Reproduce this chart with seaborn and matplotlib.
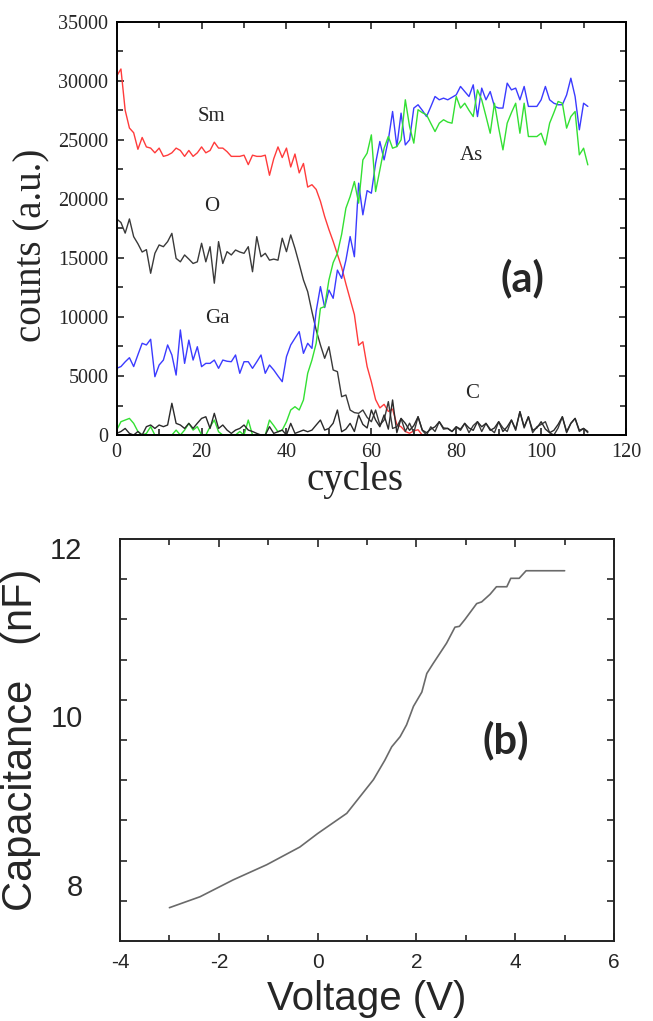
import numpy as np
import pandas as pd
import matplotlib
matplotlib.use("Agg")
import matplotlib.pyplot as plt
import seaborn as sns

# (a) depth profile: counts vs sputter cycles
cycles = list(range(112))

sm_counts = [30400, 31000, 27500, 26000, 25600, 24200, 25200, 24400, 24300, 23900,
             24300, 23600, 23700, 23900, 24300, 24100, 23600, 24100, 23600, 23900,
             24400, 23900, 24100, 24800, 24300, 24300, 24000, 23600, 23600, 23600,
             23700, 22900, 23700, 23600, 23600, 23700, 22000, 23400, 24400, 23500,
             24300, 22700, 23800, 22200, 23000, 21000, 21200, 20800, 19800, 18500,
             17400, 16400, 15300, 14200, 12800, 11500, 10200, 7600, 7900, 5800,
             4500, 3000, 2300, 2600, 2000, 2200, 900, 700, 300, 150,
             350, 450] + [0] * 40

ga_counts = [5650, 5800, 6200, 6550, 5800, 6800, 7770, 7630, 8110, 4940,
             5930, 6350, 7630, 6780, 5080, 8900, 6070, 8040, 6350, 7480,
             5790, 6070, 6070, 6350, 5650, 6350, 6250, 6210, 6780, 5230,
             6210, 6210, 5650, 6200, 6780, 5230, 5930, 5510, 5000, 4520,
             6640, 7630, 8200, 8760, 6920, 7770, 7340, 10500, 12570, 10800,
             12280, 11580, 13970, 13270, 14800, 16810, 15100, 21330, 18650, 20700,
             20480, 23020, 24860, 23300, 25000, 27400, 24430, 27260, 24570, 25000,
             27690, 27970, 27500, 26970, 27800, 28670, 28390, 28530, 28390, 28600,
             28810, 29520, 29090, 28670, 29660, 26970, 29380, 28390, 29090, 27830,
             27690, 27690, 29800, 29230, 29380, 28390, 29520, 27830, 27830, 27830,
             28390, 29520, 28390, 28100, 27970, 27970, 28800, 30220, 28670, 25850,
             28100, 27830]

as_counts = [420, 1130, 1270, 1410, 990, 300, 0, 140, 710, 0,
             0, 0, 0, 0, 420, 0, 420, 990, 420, 710,
             0, 0, 700, 1270, 280, 0, 0, 0, 0, 300,
             0, 1270, 0, 0, 0, 0, 1270, 800, 280, 420,
             1130, 2120, 2400, 2120, 2970, 5230, 6350, 7770, 10740, 10880,
             13130, 14600, 15400, 17000, 19210, 20200, 21470, 19640, 23300, 23870,
             25420, 20620, 22450, 24290, 25280, 24290, 24430, 25000, 28390, 26130,
             24720, 27550, 27300, 27120, 26400, 25700, 26410, 26700, 26500, 26410,
             28670, 27690, 28100, 27500, 26970, 29230, 28390, 27000, 25560, 28100,
             26000, 24150, 26410, 27300, 28100, 25560, 28100, 25280, 25280, 25280,
             25560, 24570, 26410, 27300, 28250, 28100, 25990, 26970, 27400, 23730,
             24290, 22880]

o_counts = [18300, 18000, 17100, 18300, 16800, 16200, 15500, 15700, 13700, 15390,
            16100, 15950, 16380, 17080, 14960, 14670, 15250, 14900, 14530, 14670,
            16240, 14670, 15950, 12860, 16380, 14530, 15530, 15250, 15670, 15500,
            15390, 15950, 13830, 16800, 15100, 15390, 14810, 14900, 14810, 16670,
            15530, 16950, 15810, 14500, 13130, 12140, 10450, 8890, 7630, 6500,
            7480, 5510, 5370, 3250, 3390, 2120, 1900, 1840, 2120, 1500,
            1130, 2120, 850, 1270, 2830, 560, 700, 1400, 300, 1000,
            200, 1550, 400, 0, 700, 300, 1130, 500, 560, 300,
            700, 400, 990, 200, 800, 1130, 300, 990, 500, 200,
            1130, 600, 300, 1270, 400, 1980, 600, 1550, 200, 700,
            900, 1130, 200, 0, 600, 1550, 300, 990, 1410, 300,
            560, 200]

c_counts = [140, 300, 560, 140, 0, 300, 0, 710, 850, 560,
            850, 710, 850, 2690, 990, 850, 560, 990, 560, 1000,
            1410, 1550, 560, 1840, 560, 850, 420, 140, 420, 560,
            850, 420, 300, 140, 0, 0, 710, 140, 280, 420,
            0, 990, 140, 280, 420, 280, 420, 850, 1270, 420,
            560, 1000, 2120, 280, 500, 990, 300, 1700, 900, 600,
            2120, 1270, 700, 1700, 500, 2970, 200, 1410, 990, 400,
            800, 1550, 420, 200, 500, 700, 1130, 600, 560, 300,
            700, 500, 990, 600, 400, 1130, 700, 990, 400, 600,
            1130, 300, 700, 1270, 500, 1980, 700, 1550, 400, 600,
            1130, 500, 200, 400, 900, 1550, 200, 990, 1410, 400,
            560, 300]

elements = ["Sm", "O", "Ga", "As", "C"]
element_colors = {"Sm": "#ff3b3b", "O": "#3a3a3a", "Ga": "#3b3bff",
                  "As": "#33e033", "C": "#2a2a2a"}
label_pos = {"Sm": (22.4, 27000), "O": (22.4, 19350), "Ga": (23.8, 9900),
             "As": (83.5, 23700), "C": (83.8, 3550)}

# (b) C-V curve
voltage = [-3.0, -2.38, -1.71, -1.03, -0.36, 0.0, 0.59, 1.13, 1.36, 1.50,
           1.67, 1.80, 1.94, 2.11, 2.21, 2.34, 2.61, 2.78, 2.87, 2.98,
           3.22, 3.32, 3.49, 3.62, 3.83, 3.91, 4.08, 4.22, 5.0]
capacitance = [7.73, 7.86, 8.06, 8.24, 8.45, 8.61, 8.85, 9.25, 9.48, 9.64,
               9.76, 9.90, 10.12, 10.29, 10.51, 10.63, 10.87, 11.06, 11.07, 11.15,
               11.34, 11.36, 11.45, 11.54, 11.54, 11.64, 11.64, 11.73, 11.73]

sns.set_style("ticks")
plt.rcParams["axes.unicode_minus"] = False
serif = ["Liberation Serif", "DejaVu Serif"]
sans = ["Liberation Sans", "DejaVu Sans"]

fig = plt.figure(figsize=(6.53, 10.21), dpi=100)
ax1 = fig.add_axes([0.1787, 0.5739, 0.78, 0.4048])
ax2 = fig.add_axes([0.1838, 0.0784, 0.7565, 0.3937])

# ---- panel (a)
profile = pd.DataFrame({
    "cycle": cycles * 5,
    "counts": sm_counts + o_counts + ga_counts + as_counts + c_counts,
    "element": np.repeat(elements, len(cycles)),
})
sns.lineplot(data=profile, x="cycle", y="counts", hue="element",
             palette=element_colors, estimator=None, sort=False,
             linewidth=1.0, legend=False, ax=ax1)
ax1.set_xlim(0, 120)
ax1.set_ylim(0, 35000)
ax1.set_xticks(range(0, 121, 20))
ax1.set_xticks(range(0, 121, 10), minor=True)
ax1.set_yticks(range(0, 35001, 5000))
ax1.set_yticks(range(0, 35001, 2500), minor=True)
ax1.tick_params(which="both", direction="in", top=True, right=True,
                width=1.2, labelsize=14.5, pad=6)
ax1.tick_params(which="major", length=5)
ax1.tick_params(which="minor", length=4)
for lab in ax1.get_xticklabels() + ax1.get_yticklabels():
    lab.set_family(serif)
ax1.set_xlabel("cycles", family=serif, fontsize=28, va="center")
ax1.set_ylabel("counts (a.u.)", family=serif, fontsize=28, va="center")
ax1.xaxis.set_label_coords(0.468, -0.11)
ax1.yaxis.set_label_coords(-0.166, 0.46)
for name, (x, y) in label_pos.items():
    ax1.text(x, y, name, family=serif, fontsize=15, ha="center", va="center")
ax1.text(95.5, 13280, "(a)", family=["Lato", "DejaVu Sans"], weight="bold",
         fontsize=30, ha="center", va="center")
for sp in ax1.spines.values():
    sp.set_linewidth(1.4)
    sp.set_color("black")

# ---- panel (b)
sns.lineplot(x=voltage, y=capacitance, color="#6a6a6a", linewidth=1.2,
             estimator=None, sort=False, ax=ax2)
ylo, yhi = 7.335, 12.107
ax2.set_xlim(-4, 6)
ax2.set_ylim(ylo, yhi)
ax2.set_xticks(range(-4, 7, 2))
ax2.set_xticks(range(-3, 6, 2), minor=True)
ax2.set_yticks([8, 10, 12])
ax2.set_yticks(np.linspace(ylo, yhi, 11)[1:-1], minor=True)
ax2.tick_params(axis="x", which="both", direction="in", top=True,
                width=1.2, labelsize=15, pad=9)
ax2.tick_params(axis="x", which="major", length=6)
ax2.tick_params(axis="x", which="minor", length=4)
ax2.tick_params(axis="y", which="major", length=0, labelsize=21, pad=27)
ax2.tick_params(axis="y", which="minor", direction="in", left=True,
                right=True, length=5, width=1.2)
for lab in ax2.get_xticklabels() + ax2.get_yticklabels():
    lab.set_family(sans)
ax2.set_xlabel("Voltage (V)", family=sans, fontsize=29, va="center")
ax2.set_ylabel("Capacitance   (nF)", family=sans, fontsize=30, va="center")
ax2.xaxis.set_label_coords(0.5, -0.145)
ax2.yaxis.set_label_coords(-0.2, 0.5)
ax2.text(3.81, 9.71, "(b)", family=["Lato", "DejaVu Sans"], weight="bold",
         fontsize=30, ha="center", va="center")
for sp in ax2.spines.values():
    sp.set_linewidth(1.4)
    sp.set_color("#222222")

fig.savefig("out.png", dpi=100)
